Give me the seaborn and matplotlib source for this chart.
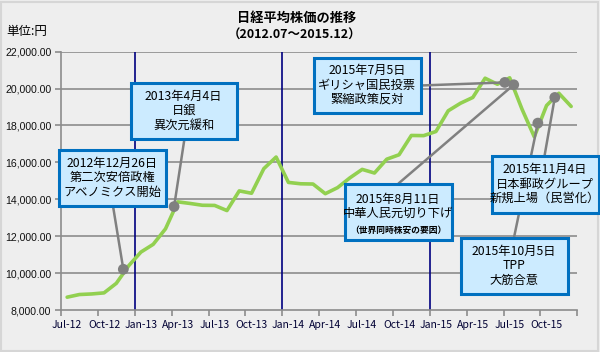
import matplotlib
matplotlib.use("Agg")
import matplotlib.pyplot as plt
import seaborn as sns
import pandas as pd
from matplotlib.patches import Rectangle

# ---------------- data ----------------
months = ["Jul-12", "Aug-12", "Sep-12", "Oct-12", "Nov-12", "Dec-12",
          "Jan-13", "Feb-13", "Mar-13", "Apr-13", "May-13", "Jun-13",
          "Jul-13", "Aug-13", "Sep-13", "Oct-13", "Nov-13", "Dec-13",
          "Jan-14", "Feb-14", "Mar-14", "Apr-14", "May-14", "Jun-14",
          "Jul-14", "Aug-14", "Sep-14", "Oct-14", "Nov-14", "Dec-14",
          "Jan-15", "Feb-15", "Mar-15", "Apr-15", "May-15", "Jun-15",
          "Jul-15", "Aug-15", "Sep-15", "Oct-15", "Nov-15", "Dec-15"]
nikkei = [8695, 8839, 8870, 8928, 9446, 10395,
          11139, 11559, 12398, 13861, 13775, 13677,
          13668, 13389, 14456, 14328, 15662, 16291,
          14915, 14841, 14828, 14304, 14632, 15162,
          15621, 15425, 16174, 16414, 17460, 17451,
          17674, 18798, 19207, 19520, 20563, 20236,
          20585, 18890, 17388, 19083, 19747, 19034]

# event markers: position on the month axis (month index) and value
event_pos = [4.57, 8.70, 35.6, 36.33, 38.29, 39.67]
event_val = [10208, 13605, 20334, 20208, 18130, 19520]
event_text = ["2012年12月26日\n第二次安倍政権\nアベノミクス開始",
              "2013年4月4日\n日銀\n異次元緩和",
              "2015年7月5日\nギリシャ国民投票\n緊縮政策反対",
              "2015年8月11日\n中華人民元切り下げ",
              "2015年10月5日\nTPP\n大筋合意",
              "2015年11月4日\n日本郵政グループ\n新規上場（民営化）"]
event_subtext = ["", "", "", "（世界同時株安の要因）", "", ""]

year_lines = ["Jan-13", "Jan-14", "Jan-15"]
title = "日経平均株価の推移"
subtitle = "（2012.07～2015.12）"
unit = "単位:円"

# ---------------- layout (pixels, top-left origin) ----------------
W, H = 600, 352
# boxes: (left, top, right, bottom)
boxes = [(59, 149.5, 165.5, 206),
         (130.5, 82.5, 237, 138.5),
         (313.5, 57.5, 420.5, 112.5),
         (344.5, 183.5, 451.5, 240),
         (461, 237.5, 567.5, 294),
         (492, 156, 598.5, 212.5)]
# connector start points (pixels)
anchors = [(113, 206), (184.5, 138.5), (420.5, 85.5),
           (398.5, 183.5), (514, 237.5), (544.5, 156)]

sns.set_theme(style="white")
plt.rcParams['font.family'] = ['Noto Sans CJK JP', 'DejaVu Sans']

fig = plt.figure(figsize=(W / 100, H / 100), dpi=100)
fig.patch.set_facecolor("#EEEEEE")
fig.patches.append(Rectangle((0.5 / W, 1.5 / H), (W - 2.5) / W, (H - 3) / H,
                             transform=fig.transFigure, fill=False,
                             edgecolor="#D6D6D6", lw=1.5, zorder=0))

x0, x1, ytop, ybot = 61, 577.3, 51.7, 310
ax = fig.add_axes([x0 / W, (H - ybot) / H, (x1 - x0) / W, (ybot - ytop) / H])
ax.set_facecolor("#EEEEEE")

df = pd.DataFrame({"idx": range(len(months)), "month": months, "value": nikkei})

ax.set_xlim(-0.5, len(months) - 0.5)
ax.set_ylim(8000, 22000)

# gridlines
yt = list(range(8000, 22001, 2000))
for v in yt[1:]:
    ax.axhline(v, color="#8C8C8C", lw=1.2, zorder=1)
for m in year_lines:
    ax.axvline(months.index(m) - 0.5, color="#000080", lw=1.2, zorder=1)

sns.lineplot(data=df, x="idx", y="value", ax=ax, color="#92D050", lw=2.6,
             zorder=3, legend=False)

# connectors
for (px, py), mx, my in zip(anchors, event_pos, event_val):
    ax.annotate("", xy=(mx, my), xycoords="data",
                xytext=(px, H - py), textcoords="figure pixels",
                arrowprops=dict(arrowstyle="-", color="#808080", lw=1.8,
                                shrinkA=0, shrinkB=0), zorder=4)
sns.scatterplot(x=event_pos, y=event_val, ax=ax, color="#808080", s=60,
                edgecolor="none", zorder=5, legend=False)

# axes styling
ax.set_yticks(yt)
ax.set_yticklabels([f"{v:,.2f}" for v in yt], fontsize=7.6, color="#111111",
                   family=["Liberation Sans", "DejaVu Sans"])
major = [i - 0.5 for i in range(0, len(months) + 1, 3)]
ax.set_xticks(major)
ax.set_xticklabels([""] * len(major))
ax.set_xticks(list(range(0, len(months), 3)), minor=True)
ax.set_xticklabels(months[::3], minor=True, fontsize=7.5, color="#000033")
ax.tick_params(axis="x", which="major", length=4, color="#8C8C8C", width=1.2,
               direction="out", bottom=True)
ax.tick_params(axis="x", which="minor", length=0, pad=7)
ax.tick_params(axis="y", length=4, color="#8C8C8C", width=1.2,
               direction="out", left=True, pad=3)
for s in ["top", "right"]:
    ax.spines[s].set_visible(False)
for s in ["left", "bottom"]:
    ax.spines[s].set_color("#8C8C8C")
    ax.spines[s].set_linewidth(1.2)
ax.set_xlabel("")
ax.set_ylabel("")

# annotation boxes (figure level, above axes)
for (l, t, r, b), txt, sub in zip(boxes, event_text, event_subtext):
    fig.patches.append(Rectangle((l / W, (H - b) / H), (r - l) / W, (b - t) / H,
                                 transform=fig.transFigure,
                                 facecolor="#CCEBFF", edgecolor="#0070C0",
                                 lw=2.2, zorder=2))
    cx = (l + r) / 2
    if sub:
        fig.text(cx / W, (H - (t + 23)) / H, txt, ha="center", va="center",
                 fontsize=8.8, linespacing=1.15, color="#000000", zorder=3)
        fig.text(cx / W, (H - (b - 10)) / H, sub, ha="center", va="center",
                 fontsize=6.3, fontweight="bold", color="#000000", zorder=3)
    else:
        fig.text(cx / W, (H - (t + b) / 2) / H, txt, ha="center", va="center",
                 fontsize=8.8, linespacing=1.15, color="#000000", zorder=3)

fig.text(297 / W, (H - 18) / H, title, ha="center", va="center",
         fontsize=9.5, fontweight="bold", color="#000000")
fig.text(295 / W, (H - 35) / H, subtitle, ha="center", va="center",
         fontsize=9, fontweight="bold", color="#000000")
fig.text(6 / W, (H - 32) / H, unit, ha="left", va="center",
         fontsize=9, color="#000000")

fig.savefig("out.png", dpi=100, facecolor=fig.get_facecolor())
